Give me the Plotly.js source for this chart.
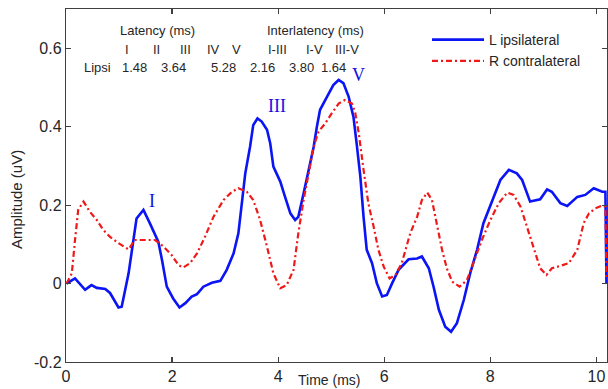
<!DOCTYPE html>
<html>
<head>
<meta charset="utf-8">
<script src="https://cdn.plot.ly/plotly-3.0.1.min.js"></script>
<style>html,body{margin:0;padding:0;background:#fff;}#chart{width:608px;height:389px;}</style>
</head>
<body>
<div id="chart"></div>
<script>
// ---- Data ----
const timeL = [0.01,0.17,0.36,0.48,0.58,0.74,0.83,0.99,1.05,1.18,1.33,1.46,1.58,1.74,1.81,1.90,2.02,2.14,2.25,2.37,2.47,2.59,2.75,2.91,3.03,3.16,3.25,3.31,3.38,3.47,3.53,3.61,3.69,3.79,3.85,3.91,4.04,4.13,4.23,4.32,4.38,4.48,4.57,4.67,4.73,4.79,4.92,5.04,5.14,5.23,5.33,5.42,5.48,5.55,5.61,5.67,5.77,5.86,5.96,6.05,6.15,6.27,6.46,6.62,6.71,6.84,6.93,7.03,7.15,7.26,7.37,7.50,7.62,7.75,7.87,8.06,8.19,8.35,8.50,8.60,8.69,8.75,8.94,9.07,9.16,9.32,9.45,9.64,9.79,9.95,10.11,10.17,10.19];
const ampL = [0.0,0.013,-0.016,-0.004,-0.011,-0.014,-0.024,-0.061,-0.059,0.026,0.166,0.188,0.154,0.107,0.06,-0.008,-0.038,-0.061,-0.050,-0.033,-0.027,-0.008,0.002,0.007,0.035,0.077,0.128,0.196,0.281,0.349,0.404,0.421,0.413,0.392,0.358,0.298,0.260,0.221,0.179,0.162,0.170,0.230,0.290,0.349,0.400,0.443,0.476,0.506,0.519,0.511,0.476,0.425,0.357,0.272,0.170,0.086,0.052,0.001,-0.033,-0.029,0.001,0.035,0.062,0.064,0.069,0.039,-0.008,-0.067,-0.110,-0.123,-0.101,-0.042,0.026,0.086,0.154,0.221,0.264,0.290,0.281,0.264,0.230,0.209,0.215,0.240,0.234,0.205,0.198,0.221,0.226,0.243,0.234,0.234,0.0];

const timeR = [0.01,0.11,0.17,0.23,0.33,0.45,0.58,0.70,0.83,0.99,1.18,1.30,1.52,1.68,1.84,1.99,2.12,2.21,2.34,2.47,2.62,2.78,2.97,3.13,3.25,3.41,3.53,3.66,3.79,3.91,4.04,4.16,4.29,4.38,4.48,4.57,4.67,4.76,4.89,5.01,5.14,5.26,5.39,5.45,5.52,5.61,5.70,5.80,5.89,5.99,6.10,6.21,6.33,6.49,6.62,6.71,6.81,6.90,6.99,7.09,7.18,7.28,7.42,7.56,7.68,7.84,8.00,8.16,8.32,8.44,8.57,8.69,8.82,8.94,9.06,9.16,9.32,9.48,9.64,9.76,9.86,9.98,10.11,10.17,10.19];
const ampR = [0.0,0.026,0.111,0.188,0.209,0.183,0.162,0.137,0.119,0.103,0.087,0.111,0.111,0.111,0.094,0.073,0.047,0.041,0.052,0.077,0.119,0.170,0.213,0.234,0.243,0.234,0.213,0.162,0.094,0.026,-0.012,-0.004,0.035,0.128,0.213,0.281,0.349,0.387,0.409,0.434,0.459,0.468,0.459,0.438,0.383,0.290,0.205,0.145,0.086,0.043,0.013,0.022,0.052,0.128,0.170,0.213,0.232,0.213,0.154,0.086,0.039,0.005,-0.008,0.009,0.052,0.111,0.162,0.205,0.232,0.226,0.196,0.145,0.086,0.039,0.022,0.039,0.045,0.052,0.086,0.154,0.179,0.192,0.199,0.196,0.01];

const seriesNames = ['L ipsilateral', 'R contralateral'];
const xTicks = [0, 2, 4, 6, 8, 10];
const yTicks = [-0.2, 0, 0.2, 0.4, 0.6];
const yTickText = ['-0.2', '0', '0.2', '0.4', '0.6'];

const peakLabels = ['I', 'III', 'V'];
const tableHeaders = ['Latency (ms)', 'Interlatency (ms)'];
const waveHeaders = ['I', 'II', 'III', 'IV', 'V', 'I-III', 'I-V', 'III-V'];
const rowLabel = 'Lipsi';
const rowValues = ['1.48', '3.64', '5.28', '2.16', '3.80', '1.64'];
const xTitle = 'Time (ms)';
const yTitle = 'Amplitude (uV)';

// ---- Layout geometry (pixels) ----
const L = 66, R = 607, T = 9, B = 362;
const px = x => (x - L) / (R - L);
const py = y => (B - y) / (B - T);

const txtColor = '#262626';
const sans = 'Liberation Sans, Arial, sans-serif';
const serif = 'Liberation Serif, Times New Roman, serif';

const annotations = [];
function addText(text, x, y, size, color, family, extra) {
  annotations.push(Object.assign({
    text: text, xref: 'paper', yref: 'paper', x: px(x), y: py(y),
    xanchor: 'center', yanchor: 'middle', showarrow: false,
    font: {size: size, color: color, family: family}
  }, extra || {}));
}
// Peak labels
const peakPos = [[152, 201], [277, 106], [358, 75]];
peakLabels.forEach((t, i) => addText(t, peakPos[i][0], peakPos[i][1], 18, '#1010e0', serif));
// Table text
const headerPos = [[157, 30], [315, 30]];
tableHeaders.forEach((t, i) => addText(t, headerPos[i][0], headerPos[i][1], 13, txtColor, sans));
const wavePos = [127, 156, 185, 213, 236, 277, 314, 347];
waveHeaders.forEach((t, i) => addText(t, wavePos[i], 49, 13, txtColor, sans));
addText(rowLabel, 97, 68, 13, txtColor, sans);
const valuePos = [134, 173, 223, 262, 301, 333];
rowValues.forEach((t, i) => addText(t, valuePos[i], 68, 13, txtColor, sans));
// Axis titles
addText(xTitle, 329, 380, 14, txtColor, sans, {borderpad: 0});
addText(yTitle, 16, 200, 15, txtColor, sans, {textangle: -90});

const traces = [
  {x: timeL, y: ampL, name: seriesNames[0], type: 'scatter', mode: 'lines',
   line: {color: '#0a14f5', width: 2.6}},
  {x: timeR, y: ampR, name: seriesNames[1], type: 'scatter', mode: 'lines',
   line: {color: '#f01818', width: 2.2, dash: '6px,3px,2px,3px'}}
];

const axisCommon = {
  showgrid: false, zeroline: false, showline: true, linecolor: '#404040', linewidth: 1.2,
  mirror: 'ticks', ticks: 'inside', ticklen: 5, tickwidth: 1.2, tickcolor: '#404040',
  tickfont: {size: 16, color: txtColor, family: sans}
};

const layout = {
  width: 608, height: 389,
  margin: {l: L, r: 608 - R, t: T, b: 389 - B, pad: 0},
  paper_bgcolor: '#fff', plot_bgcolor: '#fff',
  xaxis: Object.assign({}, axisCommon, {range: [0, 10.2], tickvals: xTicks, ticktext: xTicks.map(String)}),
  yaxis: Object.assign({}, axisCommon, {range: [-0.2, 0.7], tickvals: yTicks, ticktext: yTickText}),
  showlegend: true,
  legend: {x: px(427), y: py(24), xanchor: 'left', yanchor: 'top', bgcolor: 'rgba(0,0,0,0)',
    itemwidth: 52, font: {size: 14, color: txtColor, family: sans}, tracegroupgap: 0},
  annotations: annotations
};

Plotly.newPlot('chart', traces, layout, {displayModeBar: false, staticPlot: true});
</script>
</body>
</html>
